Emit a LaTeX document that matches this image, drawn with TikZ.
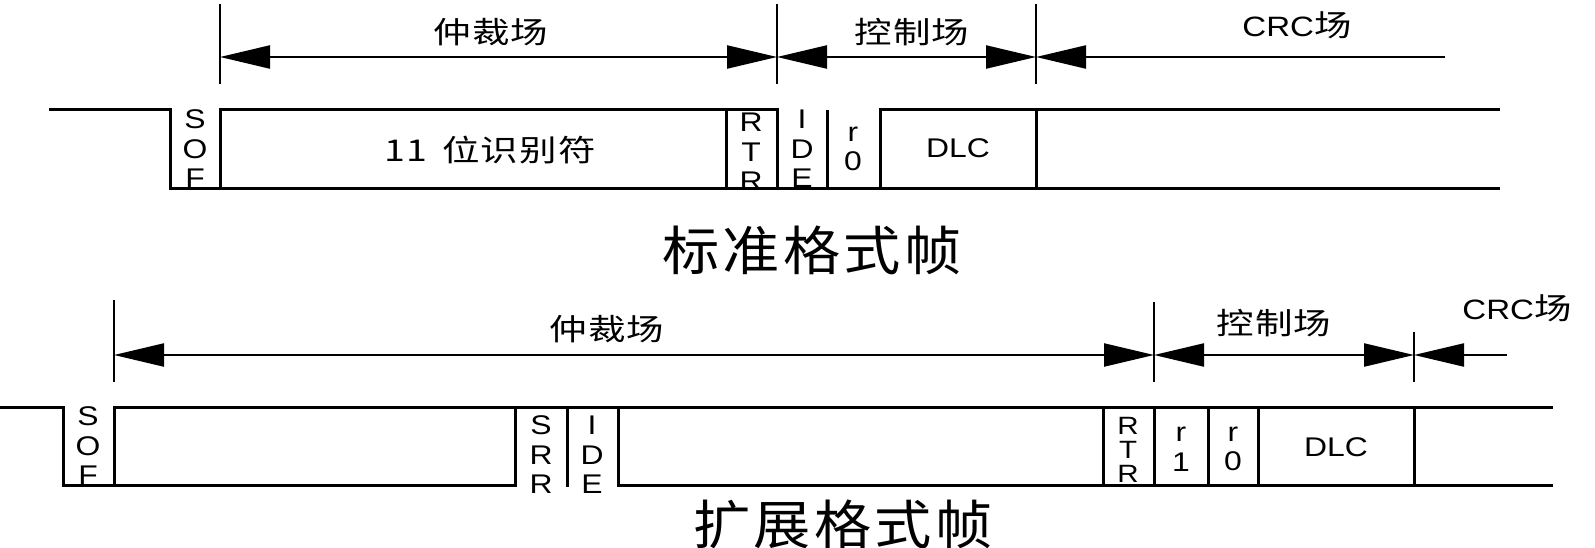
\documentclass[tikz,border=0pt]{standalone}
\usepackage{fontspec}
\setmainfont{Liberation Sans}[FakeStretch=1.18]
\newfontfamily\cjk{Noto Sans CJK SC}[LetterSpace=4, FakeStretch=1.25]
\newfontfamily\cjktitle{Noto Sans CJK SC}[LetterSpace=6, FakeStretch=1.08]
\usetikzlibrary{
  arrows.meta
}

\begin{document}
\begin{tikzpicture}[x=1pt, y=-1pt, line width=3pt]
\useasboundingbox (0,0) rectangle (1595,548);

% -------------------------
% Styles
% -------------------------
\tikzset{
  bits/.style={font=\fontsize{27}{29.5}\selectfont, align=center, inner sep=0pt},
  field/.style={font=\cjk\fontsize{30}{32}\selectfont, inner sep=0pt},
  frametitle/.style={font=\cjktitle\fontsize{53}{55}\selectfont, inner sep=0pt},
  bound/.style={line width=2.6pt},
  dim/.style={line width=2.2pt}
}

% -------------------------
% Standard frame
% -------------------------
\draw (49,110) -- (170,110) -- (170,189) -- (1500,189);
\draw (220,189) -- (220,110) -- (777,110) -- (777,189);
\draw (726,110) -- (726,189);
\draw (827,110) -- (827,189);
\draw (880,189) -- (880,110) -- (1500,110);
\draw (1036,110) -- (1036,189);

\node[bits]  (sofA)   at (195,149) {S\\O\\F};
\node[field] (idA)    at (490,150) {11\hspace{0.5em}位识别符};
\node[bits]  (rtrA)   at (751,152) {R\\T\\R};
\node[bits]  (ideA)   at (802,149) {I\\D\\E};
\node[bits]  (rzeroA) at (853,149) {r\\0};
\node[bits]  (dlcA)   at (958,148) {DLC};

% field bounds
\draw[bound] (220,4) -- (220,84);
\draw[bound] (777,4) -- (777,84);
\draw[bound] (1036,4) -- (1036,84);

\coordinate (arbLA) at (220,57);
\coordinate (arbRA) at (777,57);
\coordinate (ctlRA) at (1036,57);
\coordinate (crcEA) at (1445,57);

\node[field] (arbA) at (491,32) {仲裁场};
\node[field] (ctlA) at (912,32) {控制场};
\node[field] (crcA) at (1297,25) {{\rmfamily\fontsize{28}{30}\selectfont CRC}场};

\node[frametitle] (stdTitle) at (812,250) {标准格式帧};

% -------------------------
% Extended frame
% -------------------------
\draw (0,407) -- (63,407) -- (63,485) -- (515,485) -- (515,407);
\draw (114,485) -- (114,407) -- (1553,407);
\draw (567,407) -- (567,487);
\draw (618,407) -- (618,485) -- (1553,485);
\foreach \x in {1103,1154,1208,1258,1414}
  \draw (\x,407) -- (\x,485);

\node[bits]  (sofB)   at (88,446)   {S\\O\\F};
\node[bits]  (srrB)   at (541,455)  {S\\R\\R};
\node[bits]  (ideB)   at (592,455)  {I\\D\\E};
\node[bits, font=\fontsize{25}{24}\selectfont] (rtrB) at (1128,450) {R\\T\\R};
\node[bits]  (roneB)  at (1181,449) {r\\1};
\node[bits]  (rzeroB) at (1233,449) {r\\0};
\node[bits]  (dlcB)   at (1336,447) {DLC};

% field bounds
\draw[bound] (114,300) -- (114,382);
\draw[bound] (1154,302) -- (1154,382);
\draw[bound] (1414,332) -- (1414,382);

\coordinate (arbLB) at (114,355);
\coordinate (arbRB) at (1154,355);
\coordinate (ctlRB) at (1414,355);
\coordinate (crcEB) at (1507,355);

\node[field] (arbB) at (607,329)  {仲裁场};
\node[field] (ctlB) at (1274,323) {控制场};
\node[field] (crcB) at (1517,308) {{\rmfamily\fontsize{28}{30}\selectfont CRC}场};

\node[frametitle] (extTitle) at (843,524) {扩展格式帧};

% -------------------------
% Dimension arrows
% -------------------------
\begin{scope}[>={Triangle[length=50pt, width=23pt]}]
\path [dim, <->] (arbLA) edge (arbRA);
\path [dim, <->] (arbRA) edge (ctlRA);
\path [dim, <-]  (ctlRA) edge (crcEA);

\path [dim, <->] (arbLB) edge (arbRB);
\path [dim, <->] (arbRB) edge (ctlRB);
\path [dim, <-]  (ctlRB) edge (crcEB);
\end{scope}

\end{tikzpicture}
\end{document}
